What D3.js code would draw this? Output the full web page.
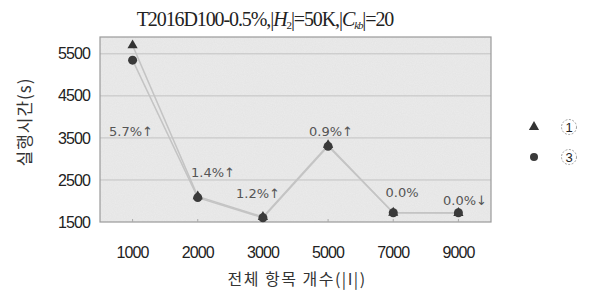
<!DOCTYPE html>
<html><head><meta charset="utf-8">
<script src="https://cdn.jsdelivr.net/npm/d3@7"></script>
<style>body{margin:0;background:#fff;} svg{display:block;}</style>
</head><body>
<svg id="c" width="590" height="291"></svg>
<script>
const categories = ["1000","2000","3000","5000","7000","9000"];
const series1 = [5700, 2110, 1620, 3330, 1720, 1715];
const series3 = [5350, 2080, 1600, 3300, 1720, 1720];
const annotations = ["5.7%↑","1.4%↑","1.2%↑","0.9%↑","0.0%","0.0%↓"];
const yTicks = [1500, 2500, 3500, 4500, 5500];
const seriesNames = ["1","3"];

const svg = d3.select("#c");
const m = {l:100, t:37, r:491, b:222};
const x = d3.scaleBand().domain(categories).range([m.l, m.r]);
const y = d3.scaleLinear().domain([1500, 5900]).range([m.b, m.t]);
const cx = d => x(d) + x.bandwidth()/2;

const defs = svg.append("defs");
const f = defs.append("filter").attr("id","noise");
f.append("feTurbulence").attr("type","fractalNoise").attr("baseFrequency",0.9).attr("numOctaves",2).attr("seed",3);
f.append("feColorMatrix").attr("type","matrix").attr("values","0 0 0 0 0.5  0 0 0 0 0.5  0 0 0 0 0.5  0 0 0 0.15 0");
f.append("feComposite").attr("in2","SourceGraphic").attr("operator","in");

svg.append("rect").attr("x",m.l).attr("y",m.t).attr("width",m.r-m.l).attr("height",m.b-m.t).attr("fill","#ebebeb");
svg.append("rect").attr("x",m.l).attr("y",m.t).attr("width",m.r-m.l).attr("height",m.b-m.t).attr("fill","#ebebeb").attr("filter","url(#noise)");

svg.append("g").selectAll("line").data(yTicks.slice(1)).join("line")
  .attr("x1",m.l).attr("x2",m.r).attr("y1",d=>y(d)).attr("y2",d=>y(d))
  .attr("stroke","#c2c2c2").attr("stroke-width",1);

svg.append("rect").attr("x",m.l).attr("y",m.t).attr("width",m.r-m.l).attr("height",m.b-m.t)
  .attr("fill","none").attr("stroke","#9a9a9a").attr("stroke-width",1.2);

const yAxis = d3.axisLeft(y).tickValues(yTicks).tickSize(0).tickPadding(10).tickFormat(d3.format("d"));
const yg = svg.append("g").attr("transform",`translate(${m.l},0)`).call(yAxis);
yg.select(".domain").remove();
yg.selectAll("text").attr("font-family","Liberation Sans, Arial").attr("font-size",16).attr("letter-spacing","-0.9").attr("fill","#222");

const xAxis = d3.axisBottom(x).tickSize(3).tickPadding(22);
const xg = svg.append("g").attr("transform",`translate(0,${m.b})`).call(xAxis);
xg.select(".domain").remove();
xg.selectAll("line").attr("stroke","#aaa").attr("transform","translate(0,-3)");
xg.selectAll("text").attr("font-family","Liberation Sans, Arial").attr("font-size",16).attr("letter-spacing","-0.9").attr("fill","#222");

const line = d3.line().x((d,i)=>cx(categories[i])).y(d=>y(d));
[series1, series3].forEach(s=>{
  svg.append("path").datum(s).attr("d",line).attr("fill","none").attr("stroke","#c4c4c4").attr("stroke-width",1.5);
});

const sym = d3.symbol().type(d3.symbolTriangle).size(45);
svg.append("g").selectAll("path").data(series1).join("path")
  .attr("d",sym).attr("transform",(d,i)=>`translate(${cx(categories[i])},${y(d)})`).attr("fill","#333");
svg.append("g").selectAll("circle").data(series3).join("circle")
  .attr("cx",(d,i)=>cx(categories[i])).attr("cy",d=>y(d)).attr("r",4.5).attr("fill","#3a3a3a");

const annPos = [[131,136],[213,177],[258,198],[331,136],[402,197],[465,205]];
svg.append("g").selectAll("text").data(annotations).join("text")
  .attr("x",(d,i)=>annPos[i][0]).attr("y",(d,i)=>annPos[i][1])
  .attr("text-anchor","middle").attr("font-family","DejaVu Sans, sans-serif").attr("font-size",13)
  .attr("fill","#555").text(d=>d);

const t = svg.append("text").attr("x",265).attr("y",26).attr("text-anchor","middle")
  .attr("font-family","Liberation Serif, serif").attr("font-size",20).attr("fill","#222")
  .attr("letter-spacing","-1.1");
t.append("tspan").text("T2016D100-0.5%,|");
t.append("tspan").attr("font-style","italic").text("H");
t.append("tspan").attr("font-size",11).attr("dy",3).text("2");
t.append("tspan").attr("dy",-3).text("|=50K,|");
t.append("tspan").attr("font-style","italic").text("C");
t.append("tspan").attr("font-size",11).attr("font-style","italic").attr("dy",3).text("kb");
t.append("tspan").attr("dy",-3).text("|=20");

svg.append("text").attr("transform","translate(31,122) rotate(-90)").attr("text-anchor","middle")
  .attr("font-family","Noto Sans CJK KR, sans-serif").attr("font-size",17).attr("letter-spacing","1").attr("fill","#333").text("실행시간(s)");
svg.append("text").attr("x",297).attr("y",285).attr("text-anchor","middle")
  .attr("font-family","Noto Sans CJK KR, sans-serif").attr("font-size",16).attr("letter-spacing","1.5").attr("fill","#333").text("전체 항목 개수(|I|)");

const lg = svg.append("g");
const legY = [127,157];
lg.append("path").attr("d",sym).attr("transform",`translate(534,${legY[0]})`).attr("fill","#333");
lg.append("circle").attr("cx",534).attr("cy",legY[1]).attr("r",4).attr("fill","#3a3a3a");
seriesNames.forEach((n,i)=>{
  lg.append("circle").attr("cx",569).attr("cy",legY[i]).attr("r",7.5).attr("fill","none").attr("stroke","#888").attr("stroke-width",0.8).attr("stroke-dasharray","2,1.5");
  lg.append("text").attr("x",569).attr("y",legY[i]+5).attr("text-anchor","middle").attr("font-family","Liberation Sans, Arial").attr("font-size",13).attr("fill","#222").text(n);
});
</script>
</body></html>
